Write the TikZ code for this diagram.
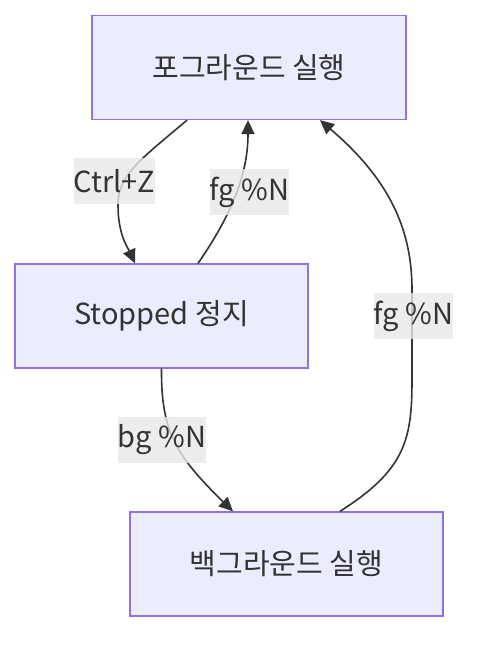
\documentclass[tikz,border=0pt]{standalone}
\usepackage{fontspec}
\setmainfont{Noto Sans CJK KR}
\usetikzlibrary{arrows.meta, positioning}
\definecolor{statefill}{HTML}{ECECFF}
\definecolor{stateborder}{HTML}{9370DB}
\definecolor{linedark}{HTML}{333333}
\definecolor{labelgray}{HTML}{E8E8E8}

\begin{document}
\begin{tikzpicture}[x=1pt, y=-1pt]
  \tikzset{
    state/.style={
      rectangle,
      draw=stateborder,
      fill=statefill,
      line width=1.3pt,
      text=linedark,
      font=\fontsize{29}{33}\selectfont,
      text centered,
      minimum height=104pt, % same height for all states
    },
    trans/.style={draw=linedark, line width=1.6pt, -{Triangle[length=14pt,width=13pt]}},
    lbl/.style={
      fill=labelgray,
      fill opacity=0.8,
      text opacity=1,
      text=linedark,
      font=\fontsize{29}{33}\selectfont,
      inner xsep=0pt,
      minimum height=46pt,
    },
  }
  \useasboundingbox (0,0) rectangle (482,652);

  \node[state, minimum width=314pt] (fg) at (249,67.5) {포그라운드 실행};
  \node[state, minimum width=293pt] (st) at (161.5,316) {Stopped 정지};
  \node[state, minimum width=313pt] (bg) at (286.5,564) {백그라운드 실행};

  \draw[trans] ([xshift=-62pt]fg.south) .. controls (140,160) and (118,175) .. (118,205)
    .. controls (118,235) and (128,248) .. ([xshift=-26.5pt]st.north);
  \draw[trans] ([xshift=36.5pt]st.north) .. controls (235,210) and (248,170) .. ([xshift=-1pt]fg.south);
  \draw[trans] (st.south) .. controls (161,430) and (175,455) .. ([xshift=-53.5pt]bg.north);
  \draw[trans] ([xshift=53.5pt]bg.north) .. controls (405,470) and (412,440) .. (412,380)
    -- (412,290) .. controls (412,230) and (390,180) .. ([xshift=71pt]fg.south);

  \node[lbl] (ctrlz) at (114.5,181.5) {Ctrl+Z};
  \node[lbl] (fgup) at (249.5,192) {fg \%N};
  \node[lbl] (bgdown) at (162,440) {bg \%N};
  \node[lbl] (fgback) at (413.5,316) {fg \%N};
\end{tikzpicture}
\end{document}
